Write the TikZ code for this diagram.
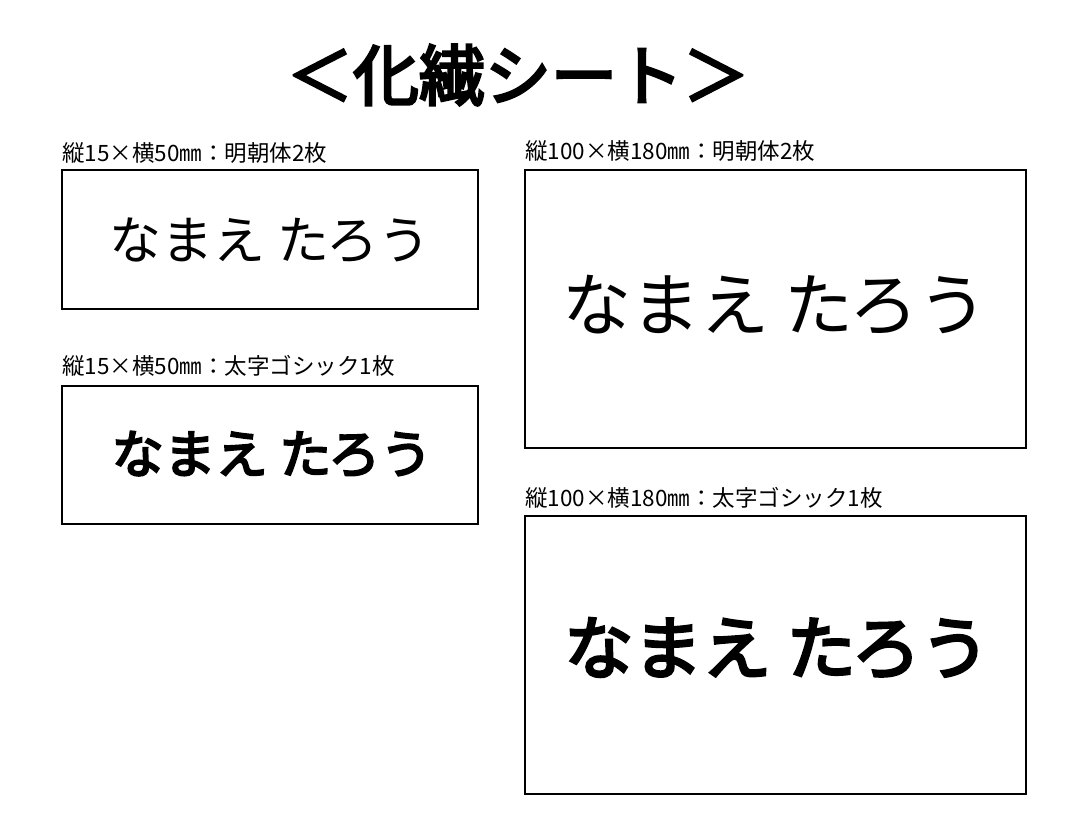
\documentclass[tikz,border=0pt]{standalone}
\usepackage{fontspec}
\setmainfont{Noto Sans CJK JP}
\newfontfamily\jpb{Noto Sans CJK JP}[FakeBold=4]
\newfontfamily\jpr{Noto Sans CJK JP}
\begin{document}
\begin{tikzpicture}[x=1pt,y=-1pt,
  lbl/.style={anchor=south west,inner sep=0pt,font=\jpr\fontsize{22.5}{22.5}\selectfont}]
\useasboundingbox (0,0) rectangle (1080,839);
\node (t) at (518,75) {\jpb\fontsize{66}{66}\selectfont ＜化繊シート＞};
\draw[line width=1.2pt] (62,170) rectangle (478,309);
\draw[line width=1.2pt] (62,386) rectangle (478,524);
\draw[line width=1.2pt] (525,170) rectangle (1026,448);
\draw[line width=1.2pt] (525,516) rectangle (1026,794);
\node[lbl] (l1) at (62,164) {縦15×横50㎜：明朝体2枚};
\node[lbl] (l2) at (62,377) {縦15×横50㎜：太字ゴシック1枚};
\node[lbl] (l3) at (525,162) {縦100×横180㎜：明朝体2枚};
\node[lbl] (l4) at (525,509) {縦100×横180㎜：太字ゴシック1枚};
\node (a) at (270,240) {\jpr\fontsize{52}{52}\selectfont なまえ たろう};
\node (b) at (272,454) {\jpb\fontsize{52}{52}\selectfont なまえ たろう};
\node (c) at (775,305) {\jpr\fontsize{69}{69}\selectfont なまえ たろう};
\node (d) at (777,648) {\jpb\fontsize{69}{69}\selectfont なまえ たろう};
\end{tikzpicture}
\end{document}
